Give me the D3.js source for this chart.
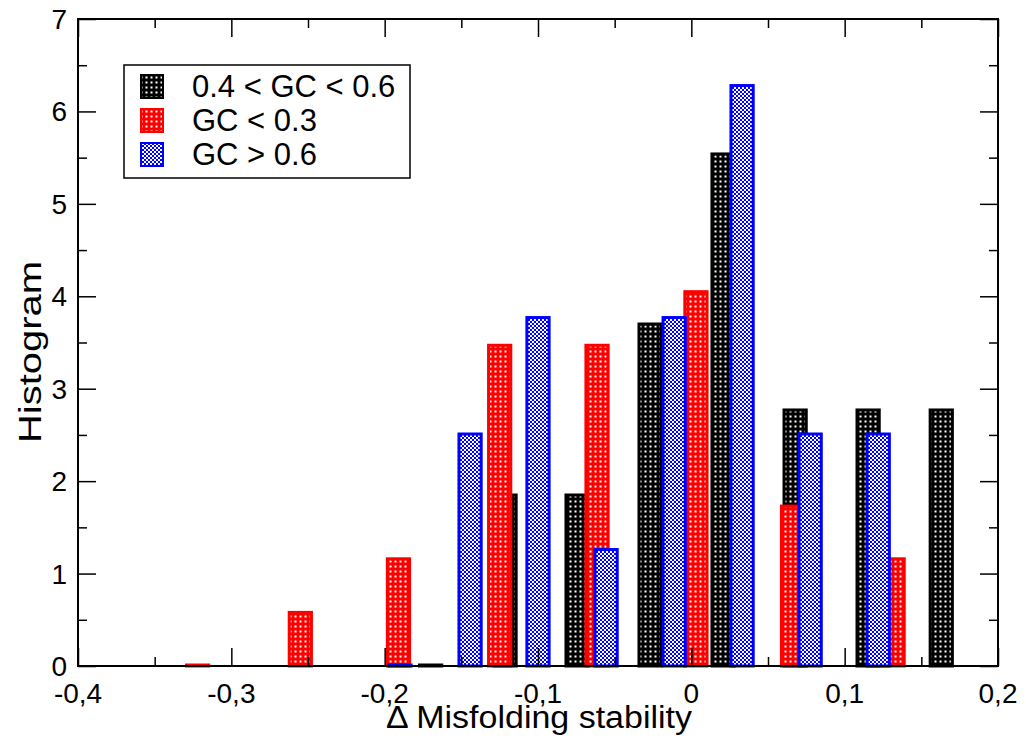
<!DOCTYPE html>
<html>
<head>
<meta charset="utf-8">
<script src="https://cdn.jsdelivr.net/npm/d3@7"></script>
<style>
  body { margin: 0; background: #fff; }
  text { font-family: "Liberation Sans", Arial, sans-serif; }
</style>
</head>
<body>
<div id="chart"></div>
<script>
// histogram bins (bin centre, height)
var midBins    = [-0.170, -0.1215, -0.0745, -0.0269, 0.0207, 0.0677, 0.1153, 0.163];
var midValues  = [0, 1.85, 1.85, 3.70, 5.54, 2.77, 2.77, 2.77];
var lowBins    = [-0.322, -0.255, -0.191, -0.125, -0.0615, 0.003, 0.066, 0.1316];
var lowValues  = [0, 0.58, 1.16, 3.47, 3.47, 4.05, 1.73, 1.16];
var highBins   = [-0.190, -0.1443, -0.100, -0.0556, -0.0112, 0.0331, 0.0775, 0.1219];
var highValues = [0, 2.51, 3.77, 1.26, 3.77, 6.28, 2.51, 2.51];

var seriesNames = ["0.4 < GC < 0.6", "GC < 0.3", "GC > 0.6"];
var xTicks = [-0.4, -0.3, -0.2, -0.1, 0, 0.1, 0.2];
var xTickLabels = ["-0,4", "-0,3", "-0,2", "-0,1", "0", "0,1", "0,2"];
var yTicks = [0, 1, 2, 3, 4, 5, 6, 7];

// set the dimensions and margins of the graph
var margin = {top: 19, right: 28, bottom: 75, left: 78},
    width = 1026 - margin.left - margin.right,
    height = 741 - margin.top - margin.bottom;

var svg = d3.select("#chart")
  .append("svg")
    .attr("width", 1026)
    .attr("height", 741);

// fill patterns
var defs = svg.append("defs");
function dotPattern(id, color) {
  var p = defs.append("pattern").attr("id", id)
    .attr("patternUnits", "userSpaceOnUse").attr("width", 5).attr("height", 5);
  p.append("rect").attr("width", 5).attr("height", 5).attr("fill", color);
  p.append("rect").attr("x", 1.5).attr("y", 1.5).attr("width", 2).attr("height", 2).attr("fill", "#fff");
}
dotPattern("patBlack", "#000");
dotPattern("patRed", "#ff0000");
var pb = defs.append("pattern").attr("id", "patBlue")
  .attr("patternUnits", "userSpaceOnUse").attr("width", 4).attr("height", 4);
pb.append("rect").attr("width", 4).attr("height", 4).attr("fill", "#0000ff");
pb.append("rect").attr("width", 2).attr("height", 2).attr("fill", "#fff");
pb.append("rect").attr("x", 2).attr("y", 2).attr("width", 2).attr("height", 2).attr("fill", "#fff");

var g = svg.append("g")
  .attr("transform", "translate(" + margin.left + "," + margin.top + ")");

var x = d3.scaleLinear().domain([-0.4, 0.2]).range([0, width]);
var y = d3.scaleLinear().domain([0, 7]).range([height, 0]);

var series = [
  {bins: midBins, values: midValues, color: "#000", fill: "url(#patBlack)"},
  {bins: lowBins, values: lowValues, color: "#ff0000", fill: "url(#patRed)"},
  {bins: highBins, values: highValues, color: "#0000ff", fill: "url(#patBlue)"}
];

var barW = 0.0145;

series.forEach(function(s) {
  var data = s.bins.map(function(b, i) { return {x: b, v: s.values[i]}; });
  g.selectAll(null)
    .data(data)
    .enter()
    .append("rect")
      .attr("x", function(d) { return x(d.x - barW / 2); })
      .attr("y", function(d) { return Math.min(y(d.v), y(0) - 1); })
      .attr("width", x(barW) - x(0))
      .attr("height", function(d) { return Math.max(y(0) - y(d.v), 1); })
      .attr("fill", s.fill)
      .attr("stroke", s.color)
      .attr("stroke-width", 3);
});

// axes: ticks inward on all four sides
var xMinor = d3.range(-0.35, 0.2, 0.1);
var yMinor = d3.range(0.5, 7, 1);

g.append("g").attr("transform", "translate(0," + height + ")")
  .call(d3.axisTop(x).tickValues(xTicks).tickSize(18).tickFormat(""));
g.append("g").attr("transform", "translate(0," + height + ")")
  .call(d3.axisTop(x).tickValues(xMinor).tickSize(9).tickFormat(""));
g.append("g")
  .call(d3.axisBottom(x).tickValues(xTicks).tickSize(18).tickFormat(""));
g.append("g")
  .call(d3.axisBottom(x).tickValues(xMinor).tickSize(9).tickFormat(""));
g.append("g")
  .call(d3.axisRight(y).tickValues(yTicks).tickSize(18).tickFormat(""));
g.append("g")
  .call(d3.axisRight(y).tickValues(yMinor).tickSize(9).tickFormat(""));
g.append("g").attr("transform", "translate(" + width + ",0)")
  .call(d3.axisLeft(y).tickValues(yTicks).tickSize(18).tickFormat(""));
g.append("g").attr("transform", "translate(" + width + ",0)")
  .call(d3.axisLeft(y).tickValues(yMinor).tickSize(9).tickFormat(""));

g.selectAll(".domain").remove();
g.selectAll(".tick line").attr("stroke", "#000").attr("stroke-width", 1.5);

// frame
g.append("rect")
  .attr("width", width).attr("height", height)
  .attr("fill", "none").attr("stroke", "#000").attr("stroke-width", 2);

// tick labels
g.selectAll(".xlab")
  .data(xTicks)
  .enter()
  .append("text")
    .attr("x", function(d) { return x(d); })
    .attr("y", height + 37)
    .attr("text-anchor", "middle")
    .style("font-size", "28px")
    .text(function(d, i) { return xTickLabels[i]; });

g.selectAll(".ylab")
  .data(yTicks)
  .enter()
  .append("text")
    .attr("x", -11)
    .attr("y", function(d) { return y(d) + 10; })
    .attr("text-anchor", "end")
    .style("font-size", "28px")
    .text(function(d) { return d; });

// axis titles
svg.append("text")
  .attr("x", 539)
  .attr("y", 728)
  .attr("text-anchor", "middle")
  .attr("textLength", 306)
  .attr("lengthAdjust", "spacingAndGlyphs")
  .style("font-size", "31px")
  .text("\u0394 Misfolding stability");

svg.append("text")
  .attr("transform", "translate(41,352) rotate(-90)")
  .attr("text-anchor", "middle")
  .attr("textLength", 182)
  .attr("lengthAdjust", "spacingAndGlyphs")
  .style("font-size", "32px")
  .text("Histogram");

// legend
var legend = svg.append("g").attr("transform", "translate(124,65)");
legend.append("rect")
  .attr("width", 286).attr("height", 113)
  .attr("fill", "#fff").attr("stroke", "#000").attr("stroke-width", 1.5);

series.forEach(function(s, i) {
  var row = legend.append("g").attr("transform", "translate(0," + (i * 34) + ")");
  row.append("rect")
    .attr("x", 17).attr("y", 10).attr("width", 22).attr("height", 23)
    .attr("fill", s.fill).attr("stroke", s.color).attr("stroke-width", 2);
  row.append("text")
    .attr("x", 68).attr("y", 32)
    .style("font-size", "31px")
    .text(seriesNames[i]);
});
</script>
</body>
</html>
